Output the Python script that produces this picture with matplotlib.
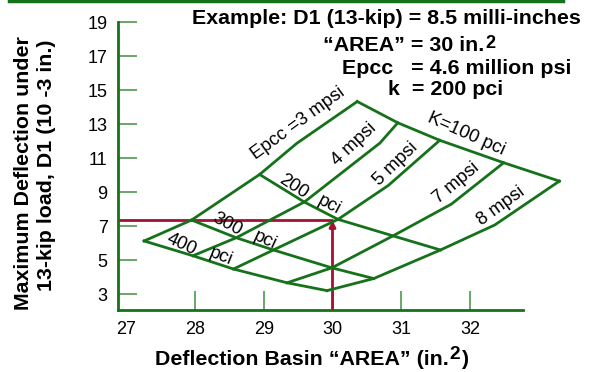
import matplotlib
matplotlib.use('Agg')
import matplotlib.pyplot as plt
from matplotlib.lines import Line2D

plt.rcParams['font.family'] = ['Liberation Sans', 'DejaVu Sans']

# ---------------- data ----------------
epcc_labels = ['Epcc =3 mpsi', '4 mpsi', '5 mpsi', '7 mpsi', '8 mpsi']
k_labels = ['K=100 pci', '200', '300', '400']

# grid intersections (one value per Epcc line: 3, 4, 5, 7, 8 mpsi)
area_k100 = [30.36, 30.95, 31.56, 32.49, 33.30]
d1_k100 = [14.34, 13.09, 12.06, 10.74, 9.66]
area_k200 = [28.94, 29.59, 30.08, 30.88, 31.57]
d1_k200 = [10.05, 8.43, 7.41, 6.44, 5.61]
area_k300 = [27.95, 28.60, 29.14, 29.99, 30.60]
d1_k300 = [7.37, 6.33, 5.61, 4.56, 3.93]
area_k400 = [27.26, 27.97, 28.56, 29.34, 29.92]
d1_k400 = [6.14, 5.27, 4.49, 3.68, 3.22]
# bend points on each Epcc line between k=200 and k=100
area_mid = [29.48, 30.69, 30.81, 31.73, 32.36]
d1_mid = [11.88, 11.90, 9.40, 8.31, 7.08]

# worked example
example_area = 30.0
example_d1 = 7.35

x_ticks = [27, 28, 29, 30, 31, 32]
y_ticks = [3, 5, 7, 9, 11, 13, 15, 17, 19]

# ---------------- style ----------------
W, H = 602, 372
GREEN = '#15721a'
TICKG = '#4f9a4f'
RED = '#a4122f'
BIG = 15.4
TICKFS = 13
LBLFS = 13.3

fig = plt.figure(figsize=(W / 100, H / 100), dpi=100)
ax = fig.add_axes([118 / W, 62 / H, (566.25 - 118) / W, (349.7 - 62) / H])
xmin, xmax = 26.88, 33.40
ax.set_xlim(xmin, xmax)
ax.set_ylim(2.08, 19.0)

for s in ['top', 'right']:
    ax.spines[s].set_visible(False)
for s in ['left', 'bottom']:
    ax.spines[s].set_color(GREEN)
    ax.spines[s].set_linewidth(2)
ax.spines['bottom'].set_bounds(xmin, 32.77)

ax.set_xticks(x_ticks)
ax.set_xticklabels([str(v) for v in x_ticks])
ax.set_yticks(y_ticks)
ax.set_yticklabels([str(v) for v in y_ticks])
ax.tick_params(direction='in', length=14, width=1.2, color=TICKG,
               labelsize=TICKFS, labelcolor='black')
ax.tick_params(axis='y', pad=7.5)
ax.tick_params(axis='x', pad=8)
ax.xaxis.get_major_ticks()[0].tick1line.set_visible(False)

# red example lines
ax.plot([xmin, example_area], [example_d1, example_d1], color=RED, lw=2,
        zorder=2, solid_capstyle='butt')
ax.annotate('', xy=(example_area, example_d1), xytext=(example_area, 2.08),
            arrowprops=dict(arrowstyle='-|>', color=RED, lw=2,
                            mutation_scale=9, shrinkA=0, shrinkB=0),
            zorder=2)

# Epcc lines
for i in range(len(epcc_labels)):
    xs = [area_k400[i], area_k300[i], area_k200[i], area_mid[i], area_k100[i]]
    ys = [d1_k400[i], d1_k300[i], d1_k200[i], d1_mid[i], d1_k100[i]]
    ax.plot(xs, ys, color=GREEN, lw=2, clip_on=False, zorder=3,
            solid_joinstyle='miter')
# k lines
for xs, ys in [(area_k100, d1_k100), (area_k200, d1_k200),
               (area_k300, d1_k300), (area_k400, d1_k400)]:
    ax.plot(xs, ys, color=GREEN, lw=2, clip_on=False, zorder=3,
            solid_joinstyle='miter')

# grid labels
def lab(x, y, s, rot):
    ax.text(x, y, s, rotation=rot, rotation_mode='anchor', ha='center',
            va='center', fontsize=LBLFS, clip_on=False, zorder=4)

lab(29.50, 13.07, epcc_labels[0], 36)
lab(30.31, 11.84, epcc_labels[1], 43)
lab(30.92, 10.66, epcc_labels[2], 44)
lab(31.80, 9.55, epcc_labels[3], 40)
lab(32.45, 8.19, epcc_labels[4], 36)
lab(31.94, 12.43, k_labels[0], -24)
lab(29.43, 9.31, k_labels[1], -33)
lab(29.95, 8.25, 'pci', -28)
lab(28.47, 7.14, k_labels[2], -28)
lab(29.02, 6.19, 'pci', -25)
lab(27.81, 5.96, k_labels[3], -25)
lab(28.38, 5.25, 'pci', -22)

# top border line
fig.add_artist(Line2D([9 / W, 563 / W], [1 - 1 / H, 1 - 1 / H], color=GREEN, lw=2.5))

renderer = fig.canvas.get_renderer()

def ftext(px, py, s, **kw):
    return fig.text(px / W, 1 - py / H, s, **kw)

# example text block
ftext(192, 24, 'Example: D1 (13-kip) = 8.5 milli-inches', fontsize=BIG,
      weight='bold', va='baseline')
t = ftext(323, 51, '“AREA” = 30 in.', fontsize=BIG, weight='bold', va='baseline')
bb = t.get_window_extent(renderer)
ftext(bb.x1 + 1, 48, '2', fontsize=BIG * 0.85, weight='bold', va='baseline')
ftext(342, 74, 'Epcc   = 4.6 million psi', fontsize=BIG, weight='bold', va='baseline')
ftext(388, 95, 'k  = 200 pci', fontsize=BIG, weight='bold', va='baseline')

# y label (two lines)
ftext(23.5, 173, 'Maximum Deflection under', fontsize=BIG, weight='bold',
      rotation=90, ha='center', va='center')
ftext(46.5, 165, '13-kip load, D1 (10 -3 in.)', fontsize=BIG, weight='bold',
      rotation=90, ha='center', va='center')

# x label
t = ftext(155, 365, 'Deflection Basin “AREA” (in.', fontsize=BIG, weight='bold',
          va='baseline')
bb = t.get_window_extent(renderer)
t2 = ftext(bb.x1 + 1, 359, '2', fontsize=BIG * 0.9, weight='bold', va='baseline')
bb2 = t2.get_window_extent(renderer)
ftext(bb2.x1 + 1, 365, ')', fontsize=BIG, weight='bold', va='baseline')

fig.savefig('out.png', dpi=100)
